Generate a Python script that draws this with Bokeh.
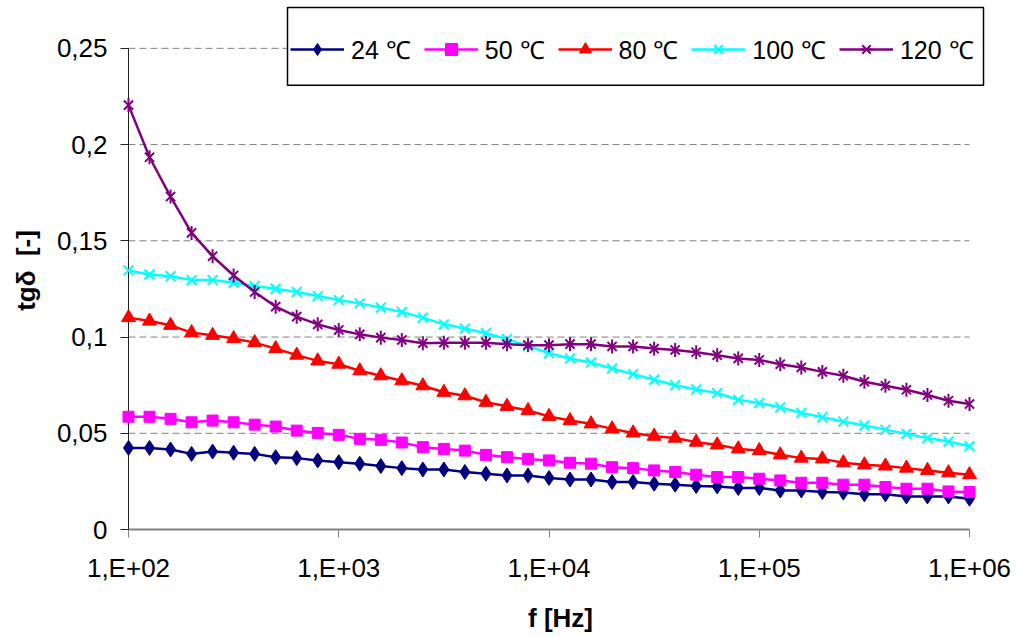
import math
from bokeh.plotting import figure
from bokeh.models import Range1d, FixedTicker, Legend, LegendItem, BoxAnnotation
from bokeh.embed import file_html
from bokeh.resources import INLINE

freq = [100, 125.9, 158.5, 199.5, 251.2, 316.2, 398.1, 501.2, 631.0, 794.3,
        1000, 1259, 1585, 1995, 2512, 3162, 3981, 5012, 6310, 7943,
        10000, 12589, 15849, 19953, 25119, 31623, 39811, 50119, 63096, 79433,
        100000, 125893, 158489, 199526, 251189, 316228, 398107, 501187, 630957, 794328,
        1000000]

t24 = [0.0424, 0.0424, 0.0416, 0.0393, 0.0405, 0.0399, 0.0393, 0.0376, 0.0371, 0.0359,
       0.0350, 0.0342, 0.0330, 0.0319, 0.0312, 0.0312, 0.0299, 0.0290, 0.0281, 0.0281,
       0.0268, 0.0260, 0.0260, 0.0247, 0.0247, 0.0238, 0.0233, 0.0226, 0.0224, 0.0216,
       0.0216, 0.0203, 0.0203, 0.0195, 0.0192, 0.0183, 0.0183, 0.0172, 0.0172, 0.0172,
       0.0160]
t50 = [0.0586, 0.0586, 0.0575, 0.0557, 0.0566, 0.0557, 0.0545, 0.0535, 0.0514, 0.0502,
       0.0492, 0.0471, 0.0466, 0.0452, 0.0428, 0.0419, 0.0410, 0.0388, 0.0376, 0.0367,
       0.0359, 0.0347, 0.0342, 0.0324, 0.0319, 0.0307, 0.0299, 0.0285, 0.0273, 0.0273,
       0.0264, 0.0255, 0.0243, 0.0243, 0.0233, 0.0233, 0.0221, 0.0212, 0.0212, 0.0198,
       0.0195]
t80 = [0.1101, 0.1083, 0.1061, 0.1023, 0.1009, 0.0992, 0.0971, 0.0940, 0.0906, 0.0876,
       0.0859, 0.0825, 0.0799, 0.0773, 0.0747, 0.0713, 0.0695, 0.0661, 0.0640, 0.0618,
       0.0588, 0.0566, 0.0549, 0.0523, 0.0502, 0.0485, 0.0475, 0.0454, 0.0440, 0.0419,
       0.0410, 0.0388, 0.0371, 0.0367, 0.0347, 0.0336, 0.0330, 0.0319, 0.0307, 0.0295,
       0.0285]
t100 = [0.1346, 0.1325, 0.1316, 0.1296, 0.1296, 0.1282, 0.1265, 0.1251, 0.1234, 0.1213,
        0.1192, 0.1175, 0.1153, 0.1130, 0.1101, 0.1066, 0.1044, 0.1020, 0.0989, 0.0954,
        0.0916, 0.0889, 0.0868, 0.0837, 0.0807, 0.0778, 0.0750, 0.0728, 0.0709, 0.0674,
        0.0657, 0.0635, 0.0606, 0.0583, 0.0561, 0.0540, 0.0519, 0.0497, 0.0475, 0.0457,
        0.0433]
t120 = [0.2205, 0.1934, 0.1730, 0.1541, 0.1420, 0.1320, 0.1234, 0.1158, 0.1106, 0.1066,
        0.1037, 0.1014, 0.0997, 0.0985, 0.0968, 0.0971, 0.0971, 0.0971, 0.0963, 0.0958,
        0.0958, 0.0963, 0.0963, 0.0951, 0.0951, 0.0940, 0.0933, 0.0921, 0.0906, 0.0889,
        0.0881, 0.0859, 0.0842, 0.0819, 0.0799, 0.0768, 0.0747, 0.0726, 0.0699, 0.0669,
        0.0652]

labels = ["24 ℃", "50 ℃", "80 ℃", "100 ℃", "120 ℃"]
y_ticks = [0, 0.05, 0.1, 0.15, 0.2, 0.25]
y_tick_labels = ["0", "0,05", "0,1", "0,15", "0,2", "0,25"]
x_ticks = [1e2, 1e3, 1e4, 1e5, 1e6]
x_tick_labels = ["1,E+02", "1,E+03", "1,E+04", "1,E+05", "1,E+06"]

FONT = "Liberation Sans"

# layout (pixels)
W, H = 1018, 635
AX_L, AX_R = 128, 969      # pixel of x = 1e2 and x = 1e6
AX_B, AX_T = 531, 48       # pixel of y = 0 and y = 0.25
FR_L, FR_R, FR_T, FR_B = 120, 1000, 3, 539   # frame edges
LG_L, LG_R, LG_T, LG_B = 287, 983, 7, 85     # legend box

xmin, xmax = x_ticks[0], x_ticks[-1]
ymin, ymax = y_ticks[0], y_ticks[-1]
dec_px = (AX_R - AX_L) / (math.log10(xmax) - math.log10(xmin))
y_per_px = (ymax - ymin) / (AX_B - AX_T)


def px_to_x(px):
    return 10 ** (math.log10(xmin) + (px - AX_L) / dec_px)


def px_to_y(py):
    return ymin + (AX_B - py) * y_per_px


p = figure(width=W, height=H, x_axis_type="log",
           x_range=Range1d(px_to_x(FR_L), px_to_x(FR_R)),
           y_range=Range1d(px_to_y(FR_B), px_to_y(FR_T)),
           output_backend="svg", toolbar_location=None,
           min_border_left=FR_L, min_border_right=W - FR_R,
           min_border_top=FR_T, min_border_bottom=H - FR_B)
p.outline_line_color = None
p.background_fill_color = "white"
p.xgrid.visible = False
p.ygrid.visible = False

# axes (ticks + labels only; axis lines drawn separately)
p.xaxis.ticker = FixedTicker(ticks=x_ticks, minor_ticks=[])
p.xaxis.major_label_overrides = {t: l for t, l in zip(x_ticks, x_tick_labels)}
p.yaxis.ticker = FixedTicker(ticks=y_ticks, minor_ticks=[])
p.yaxis.major_label_overrides = {t: l for t, l in zip(y_ticks, y_tick_labels)}

for ax in (p.xaxis[0], p.yaxis[0]):
    ax.axis_line_color = None
    ax.major_label_text_font = FONT
    ax.major_label_text_font_size = "26px"
    ax.major_label_text_color = "black"
    ax.axis_label_text_font = FONT
    ax.axis_label_text_font_size = "26px"
    ax.axis_label_text_font_style = "bold"
    ax.axis_label_text_color = "black"
    ax.major_tick_out = 0
    ax.major_tick_in = 8
    ax.minor_tick_out = 0
    ax.minor_tick_in = 0

p.xaxis.axis_label = "f [Hz]"
p.yaxis.axis_label = "tgδ\u00a0\u00a0[-]"
p.xaxis.major_tick_line_color = "#808080"
p.yaxis.major_tick_line_color = "#202020"
p.xaxis.major_label_standoff = 15
p.yaxis.major_label_standoff = 13
p.xaxis.axis_label_standoff = 17
p.yaxis.axis_label_standoff = 13

# dashed horizontal grid lines between the axis limits
grid_vals = y_ticks[1:]
p.segment(x0=[xmin] * len(grid_vals), x1=[xmax] * len(grid_vals),
          y0=grid_vals, y1=grid_vals, line_color="#808080",
          line_width=1, line_dash="7 4")

# axis lines
p.segment(x0=[xmin], x1=[xmax], y0=[ymin], y1=[ymin], line_color="#808080", line_width=2)
p.segment(x0=[xmin], x1=[xmin], y0=[ymin], y1=[ymax], line_color="#202020", line_width=1)

series = [t24, t50, t80, t100, t120]
colors = ["#000080", "#FF00FF", "#FF0000", "#00FFFF", "#800080"]
items = []
for vals, col, lab, idx in zip(series, colors, labels, range(5)):
    rl = p.line(freq, vals, line_color=col, line_width=2.5)
    rs = []
    if idx == 0:
        rs.append(p.scatter(freq, vals, marker="diamond", size=15, fill_color=col, line_color=col))
    elif idx == 1:
        rs.append(p.scatter(freq, vals, marker="square", size=11, fill_color=col, line_color=col))
    elif idx == 2:
        rs.append(p.scatter(freq, vals, marker="triangle", size=14, fill_color=col, line_color=col))
    elif idx == 3:
        rs.append(p.scatter(freq, vals, marker="x", size=14, line_color=col, line_width=2))
    else:
        rs.append(p.scatter(freq, vals, marker="x", size=13, line_color=col, line_width=2))
        rs.append(p.scatter(freq, vals, marker="dash", size=14, angle=1.5708, line_color=col, line_width=2))
    items.append(LegendItem(label=lab, renderers=[rl] + rs))

# legend frame
box = BoxAnnotation(left=px_to_x(LG_L), right=px_to_x(LG_R),
                    top=px_to_y(LG_T), bottom=px_to_y(LG_B),
                    fill_color="white", fill_alpha=1,
                    line_color="black", line_width=1.5, line_alpha=1)
p.add_layout(box)

GH = 30
PAD = 7
legend = Legend(items=items, orientation="horizontal",
                location=(LG_L - FR_L + 3, FR_B - ((LG_T + LG_B) / 2 + GH / 2 + PAD)),
                border_line_color=None, background_fill_alpha=0,
                padding=PAD, spacing=13, margin=0,
                glyph_width=54, glyph_height=GH, label_height=GH, label_standoff=7,
                label_text_font=FONT, label_text_font_size="25px", label_text_color="black")
p.add_layout(legend)

open("out.html", "w").write(file_html(p, INLINE))
